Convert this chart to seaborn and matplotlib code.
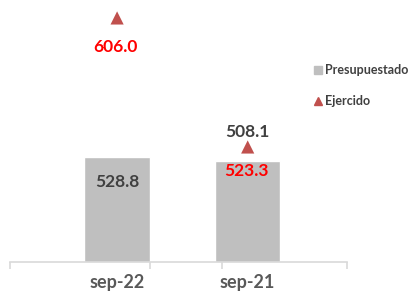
import numpy as np
import pandas as pd
import matplotlib.pyplot as plt
import matplotlib.ticker as ticker
from matplotlib.lines import Line2D
import seaborn as sns

# data
periodos = ["sep-22", "sep-21"]
presupuestado = [528.8, 508.1]
ejercido = [606.0, 523.3]

sns.set_theme(style="white")
plt.rcParams['font.family'] = ['Lato', 'DejaVu Sans']

GRAY_BAR = "#BFBFBF"
RED_MK = "#C0504D"
TXT = "#404040"

df = pd.DataFrame({"Periodo": periodos, "Presupuestado": presupuestado, "Ejercido": ejercido})

fig = plt.figure(figsize=(4.17, 2.97), dpi=100)
ax = fig.add_axes([0.024, 0.118, 0.808, 0.882])

sns.barplot(data=df, x="Periodo", y="Presupuestado", color=GRAY_BAR,
            width=0.5, saturation=1, ax=ax)
ax.set_ylim(0, 1320)
ax.set_xlim(-0.82, 1.76)

ax2 = ax.twinx()
sns.scatterplot(data=df, x="Periodo", y="Ejercido", marker="^", s=90,
                color=RED_MK, edgecolor="none", ax=ax2, zorder=5)
ax2.set_ylim(449.6, 617.5)

# value labels (offsets in points)
bar_off = [-18, 21]
mk_off = [-21, -17]
for i, p in enumerate(ax.patches):
    ax.annotate(format(presupuestado[i], '.1f'),
                (p.get_x() + p.get_width() / 2., p.get_height()),
                xytext=(0, bar_off[i]), textcoords='offset points',
                ha='center', va='center', fontsize=12.5, fontweight='bold', color=TXT)
for i, v in enumerate(ejercido):
    ax2.annotate(format(v, '.1f'), (i, v), xytext=(-1, mk_off[i]),
                 textcoords='offset points', ha='center', va='center',
                 fontsize=12.5, fontweight='bold', color="#FF0000")

for a in (ax, ax2):
    for s in a.spines.values():
        s.set_visible(False)
    a.set_yticks([])
    a.set_ylabel("")
    a.set_xlabel("")
ax.spines['bottom'].set_visible(True)
ax.spines['bottom'].set_color("#D9D9D9")
ax.spines['bottom'].set_linewidth(1.2)

ax.tick_params(axis='x', which='major', length=0, pad=8.5, labelsize=13,
               labelcolor="#595959")
for t in ax.get_xticklabels():
    t.set_fontweight('bold')
ax.xaxis.set_minor_locator(ticker.FixedLocator([-0.82, 0.25, 0.8, 1.76]))
ax.tick_params(axis='x', which='minor', bottom=True, length=5, width=1.2,
               color="#D9D9D9", direction='out')

handles = [Line2D([], [], marker='s', linestyle='none', color=GRAY_BAR, markersize=6),
           Line2D([], [], marker='^', linestyle='none', color=RED_MK, markersize=6)]
leg = fig.legend(handles, ["Presupuestado", "Ejercido"], loc='upper left',
                 bbox_to_anchor=(0.735, 0.80), frameon=False, labelspacing=1.5,
                 handletextpad=0.1, handlelength=1.0, borderaxespad=0,
                 prop={'size': 9, 'weight': 'bold'})
for t in leg.get_texts():
    t.set_color(TXT)

fig.savefig("out.png", dpi=100)
